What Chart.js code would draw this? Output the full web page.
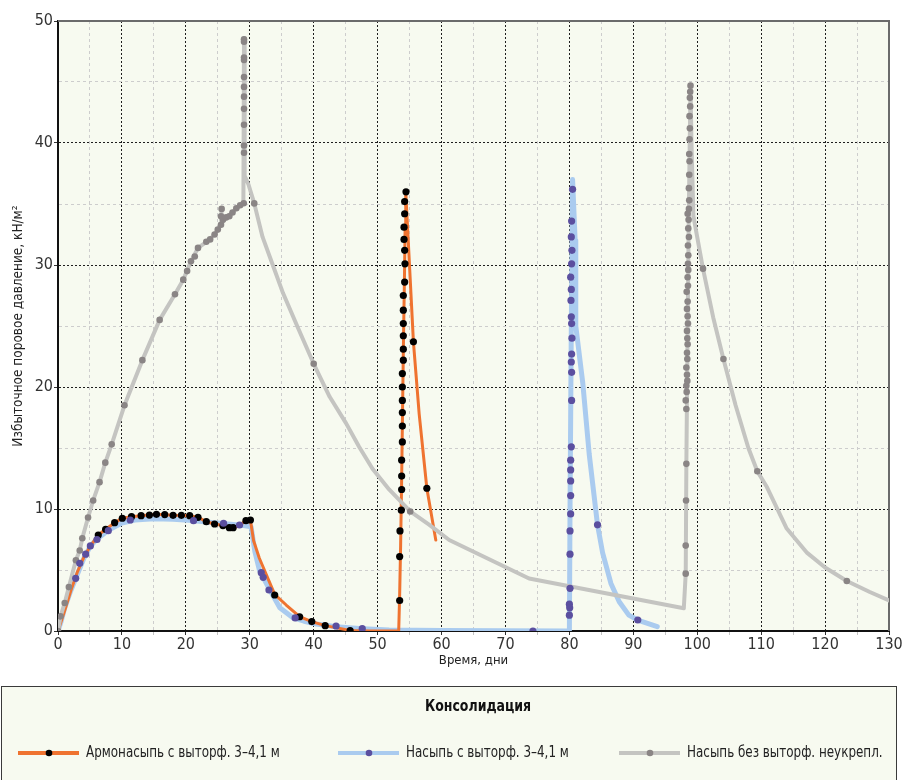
<!DOCTYPE html>
<html>
<head>
<meta charset="utf-8">
<script src="https://cdn.jsdelivr.net/npm/chart.js@4/dist/chart.umd.min.js"></script>
<style>
html,body{margin:0;padding:0;background:#fff;}
#wrap{width:903px;height:780px;position:relative;}
canvas{display:block;}
</style>
</head>
<body>
<div id="wrap"><canvas id="c" width="903" height="780"></canvas></div>
<script>
// ---------- DATA ----------
const xTickLabels = [0,10,20,30,40,50,60,70,80,90,100,110,120,130];
const yTickLabels = [0,10,20,30,40,50];
const xTitle = 'Время, дни';
const yTitle = 'Избыточное поровое давление, кН/м²';
const legendTitle = 'Консолидация';
const seriesNames = ['Армонасыпь с выторф. 3–4,1 м', 'Насыпь с выторф. 3–4,1 м', 'Насыпь без выторф. неукрепл.'];

// Армонасыпь — line
const armLine = [[0,0],[1,1.6],[2,3.3],[3,4.8],[4,6.0],[5,6.9],[6.3,7.87],[7.45,8.34],[8.86,8.88],[10.06,9.24],
  [11.5,9.37],[13,9.45],[15.4,9.56],[18,9.48],[20.6,9.45],[21.9,9.32],[23.2,8.96],[24.5,8.77],[25.8,8.64],[26.8,8.47],
  [27.4,8.45],[28.2,8.6],[29.4,9.04],[30.1,9.1],[30.6,7.4],[31.5,5.96],[33.9,3.0],[35.7,2.13],[37.8,1.17],[39.7,0.77],
  [41.8,0.44],[45.7,0.05],[48.7,0],[53.3,0],[53.45,3],[53.6,7],[53.75,12],[53.9,18],[54.05,24],[54.2,29],
  [54.3,33],[54.4,36.0],[55.6,23.7],[56.5,17.8],[57.7,11.7],[59.1,7.46]];
// Армонасыпь — measured points
const armDots = [[6.3,7.87],[7.45,8.34],[8.86,8.88],[10.06,9.24],[11.5,9.37],[13.0,9.45],[14.3,9.5],[15.4,9.56],[16.7,9.54],
  [18.0,9.48],[19.3,9.48],[20.6,9.45],[21.9,9.32],[23.2,8.96],[24.5,8.77],[25.8,8.64],[26.8,8.47],[27.4,8.47],[29.4,9.04],[30.1,9.1],
  [33.9,2.95],[37.8,1.17],[39.7,0.77],[41.8,0.44],[45.7,0.03],
  [54.44,36.0],[54.23,35.2],[54.23,34.2],[54.13,33.1],[54.13,32.1],[54.23,31.2],[54.28,30.1],[54.23,28.6],[54.02,27.5],
  [54.02,26.3],[54.02,25.2],[54.02,24.2],[54.02,23.1],[54.02,22.2],[53.87,21.1],[53.87,20.0],[53.87,18.9],[53.87,17.9],
  [53.87,16.8],[53.87,15.5],[53.76,14.0],[53.76,12.7],[53.76,11.6],[53.71,9.9],[53.5,8.2],[53.45,6.1],[53.45,2.5],
  [55.6,23.7],[57.7,11.7]];

// Насыпь с выторф. — line
const fillLine = [[0,0],[0.5,0.8],[1,1.8],[2,3.3],[3,4.6],[4,5.9],[5,6.9],[6,7.5],[8,8.3],[10,8.85],
  [12,9.1],[15,9.2],[18,9.15],[21,9.05],[24,8.9],[27,8.75],[29,8.65],[30.2,8.55],[30.8,6.5],[31.5,5.0],
  [33.1,3.4],[34.7,1.9],[36.7,1.1],[38.5,0.8],[40.4,0.57],[43.5,0.35],[47.7,0.19],[51.8,0.08],[60,0.04],[70,0.02],
  [80.0,0.0],[80.1,10],[80.3,25],[80.5,37.0],[80.9,32.0],[81.0,25.0],[82.1,20.3],[83.1,14.5],[84.4,8.7],[85.2,6.4],
  [86.5,3.9],[87.8,2.4],[89.3,1.3],[90.7,0.9],[93.75,0.35]];
// Насыпь с выторф. — measured points
const fillDots = [[2.77,4.32],[3.4,5.55],[4.33,6.3],[5.06,6.97],[6.1,7.5],[7.87,8.22],[11.3,9.1],[21.2,9.04],[25.9,8.83],[28.4,8.69],
  [31.8,4.78],[32.1,4.4],[33.0,3.36],[37.1,1.07],[43.5,0.41],[47.6,0.19],[74.3,0.0],
  [80.5,36.2],[80.35,33.6],[80.3,32.3],[80.4,31.2],[80.35,30.1],[80.2,29.0],[80.3,28.0],[80.25,27.1],[80.3,25.75],
  [80.35,25.2],[80.4,24.0],[80.35,22.7],[80.3,22.05],[80.35,21.2],[80.35,18.9],[80.3,15.1],[80.2,14.0],[80.2,13.2],
  [80.2,12.3],[80.2,11.1],[80.2,9.6],[80.1,8.2],[80.1,6.3],[80.1,3.5],[80.0,2.2],[80.05,1.9],[80.0,1.3],
  [84.4,8.7],[90.7,0.9]];

// Насыпь без выторф. неукрепл. — line
const greyLine = [[0,0],[0.4,1.2],[1.05,2.3],[1.7,3.6],[2.8,5.8],[3.4,6.6],[3.8,7.6],[4.7,9.3],[5.5,10.7],[6.5,12.2],
  [7.4,13.8],[8.4,15.3],[10.4,18.5],[13.2,22.2],[15.9,25.5],[18.3,27.6],[19.6,28.8],[20.8,30.3],[21.9,31.4],[23.8,32.1],
  [25.0,32.9],[25.5,33.3],[25.55,34.6],[25.6,33.4],[26.3,33.9],[27.3,34.3],[27.9,34.65],[29.0,35.06],[29.1,48.6],[29.2,37.3],
  [29.8,36.6],[30.7,35.05],[32.0,32.3],[33.6,30.0],[35.2,27.7],[37.5,24.9],[40.0,21.9],[42.5,19.2],[45.1,17.0],[47.1,15.1],
  [49.2,13.3],[51.8,11.6],[55.1,9.8],[58.1,8.7],[61.2,7.46],[73.7,4.3],[97.9,1.86],[98.2,4.7],[98.3,13.7],[98.5,25],
  [98.7,35],[98.95,44.8],[99.1,40],[99.4,34],[100.9,29.7],[102.5,25.7],[104.1,22.3],[106,18.5],[108,15.0],[109.4,13.1],
  [110.9,11.8],[114,8.4],[117.2,6.4],[120,5.2],[123.4,4.1],[127,3.2],[130,2.5]];
// Насыпь без выторф. неукрепл. — measured points
const greyDots = [[0,0],[0.4,1.2],[1.05,2.3],[1.7,3.6],[2.8,5.8],[3.4,6.6],[3.8,7.6],[4.7,9.3],[5.5,10.7],[6.5,12.2],
  [7.4,13.8],[8.4,15.3],[10.4,18.5],[13.2,22.2],[15.9,25.5],[18.3,27.6],[19.6,28.8],[20.2,29.5],[20.8,30.3],[21.4,30.7],
  [21.9,31.4],[23.2,31.9],[23.8,32.1],[24.5,32.5],[25.0,32.9],[25.5,33.3],[25.5,34.0],[25.6,34.6],[25.8,33.7],[26.3,33.9],
  [26.8,34.0],[27.3,34.3],[27.9,34.65],[28.5,34.9],[29.06,35.06],
  [29.1,39.2],[29.1,39.8],[29.1,41.5],[29.1,42.8],[29.1,43.8],[29.1,44.6],[29.1,45.4],[29.1,46.8],[29.1,47.0],[29.1,48.3],[29.1,48.5],
  [30.7,35.05],[40.0,21.9],[55.1,9.8],
  [98.2,4.7],[98.2,7.0],[98.25,10.7],[98.3,13.7],[98.3,18.2],[98.2,18.9],[98.35,19.6],[98.3,20.1],[98.45,20.5],[98.4,21.0],
  [98.3,21.6],[98.45,22.3],[98.4,22.8],[98.5,23.5],[98.45,24.0],[98.4,24.6],[98.55,25.2],[98.5,25.8],[98.4,26.4],[98.5,27.0],
  [98.35,27.8],[98.55,28.3],[98.5,29.0],[98.6,29.6],[98.55,30.1],[98.6,30.8],[98.55,31.6],[98.7,32.3],[98.6,33.0],[98.65,33.7],
  [98.5,34.2],[98.7,34.6],[98.75,35.3],[98.7,36.3],[98.75,37.4],[98.8,38.5],[98.75,39.1],[98.8,40.3],[98.85,41.2],[98.8,42.2],
  [98.9,43.0],[98.85,43.7],[98.9,44.2],[98.95,44.7],
  [100.9,29.7],[104.1,22.3],[109.4,13.1],[123.4,4.1]];

// ---------- STYLE ----------
const FONT = "'Liberation Sans Narrow','Arial Narrow','DejaVu Sans Condensed',sans-serif";
const PLOT_BG = '#f7faf0';
const COLORS = {
  armLine:'#ef7330', armDot:'#000000',
  fillLine:'#aacbef', fillDot:'#5b4f9f',
  greyLine:'#c4c4c1', greyDot:'#8a8585'
};

function pts(arr){ return arr.map(p => ({x:p[0], y:p[1]})); }
function isMajor(c){ return c.tick && Math.abs(c.tick.value % 10) < 1e-6; }

const bgPlugin = {
  id:'plotBg',
  beforeDraw(chart){
    const a = chart.chartArea, ctx = chart.ctx;
    ctx.save();
    ctx.fillStyle = PLOT_BG;
    ctx.fillRect(a.left, a.top, a.right - a.left, a.bottom - a.top);
    ctx.restore();
  },
  beforeDatasetsDraw(chart){
    const a = chart.chartArea, ctx = chart.ctx;
    ctx.save();
    ctx.strokeStyle = '#6b6b6b';
    ctx.lineWidth = 2;
    ctx.beginPath();
    ctx.moveTo(a.left, a.top); ctx.lineTo(a.right, a.top); ctx.lineTo(a.right, a.bottom);
    ctx.stroke();
    ctx.restore();
  }
};

function narrowText(ctx, text, x, y, sx){
  ctx.save();
  ctx.translate(x, y);
  ctx.scale(sx, 1);
  ctx.fillText(text, 0, 0);
  ctx.restore();
}

const legendX = [18, 338, 619];
const legendPlugin = {
  id:'boxLegend',
  afterDraw(chart){
    const ctx = chart.ctx;
    ctx.save();
    ctx.fillStyle = PLOT_BG;
    ctx.fillRect(1, 686, 896, 100);
    ctx.strokeStyle = '#3a3a3a';
    ctx.lineWidth = 1;
    ctx.strokeRect(1.5, 686.5, 895, 120);
    ctx.fillStyle = '#111';
    ctx.font = 'bold 16px ' + FONT;
    ctx.textAlign = 'center';
    ctx.textBaseline = 'middle';
    narrowText(ctx, legendTitle, 478, 707, 0.87);
    const lineCols = [COLORS.armLine, COLORS.fillLine, COLORS.greyLine];
    const dotCols = [COLORS.armDot, COLORS.fillDot, COLORS.greyDot];
    const y = 753;
    for (let i = 0; i < 3; i++) {
      const x0 = legendX[i];
      ctx.strokeStyle = lineCols[i];
      ctx.lineWidth = 4;
      ctx.beginPath(); ctx.moveTo(x0, y); ctx.lineTo(x0 + 61, y); ctx.stroke();
      ctx.fillStyle = dotCols[i];
      ctx.beginPath(); ctx.arc(x0 + 31, y, 3.3, 0, Math.PI * 2); ctx.fill();
      ctx.fillStyle = '#222';
      ctx.font = '16px ' + FONT;
      ctx.textAlign = 'left';
      narrowText(ctx, seriesNames[i], x0 + 68, y, 0.83);
    }
    ctx.restore();
  }
};

const lineDs = (data, color, width, order) => ({
  data: pts(data), showLine:true, borderColor:color, borderWidth:width, pointRadius:0, pointHoverRadius:0,
  tension:0, fill:false, borderJoinStyle:'round', borderCapStyle:'round', order
});
const dotDs = (data, color, r, order) => ({
  data: pts(data), showLine:false, pointRadius:r, pointHoverRadius:r, pointBackgroundColor:color,
  pointBorderWidth:0, borderColor:color, order
});

new Chart(document.getElementById('c'), {
  type:'scatter',
  data:{
    datasets:[
      Object.assign(dotDs(fillDots, COLORS.fillDot, 3.6, 0), {label:seriesNames[1] + ' (точки)'}),
      Object.assign(dotDs(armDots, COLORS.armDot, 3.6, 1), {label:seriesNames[0] + ' (точки)'}),
      Object.assign(dotDs(greyDots, COLORS.greyDot, 3.3, 2), {label:seriesNames[2] + ' (точки)'}),
      Object.assign(lineDs(greyLine, COLORS.greyLine, 4, 3), {label:seriesNames[2]}),
      Object.assign(lineDs(armLine, COLORS.armLine, 3, 4), {label:seriesNames[0]}),
      Object.assign(lineDs(fillLine, COLORS.fillLine, 5, 5), {label:seriesNames[1]})
    ]
  },
  options:{
    responsive:false,
    animation:false,
    devicePixelRatio:1,
    events:[],
    layout:{padding:{top:21, right:14, bottom:107, left:0}},
    plugins:{legend:{display:false}, tooltip:{enabled:false}, title:{display:false}},
    scales:{
      x:{
        type:'linear', min:0, max:130,
        afterFit(s){ s.height = 42; },
        ticks:{stepSize:5, autoSkip:false, maxRotation:0, padding:0, color:'#333',
          font:{family:FONT, size:16},
          callback:v => xTickLabels.includes(v) ? String(v) : ''},
        grid:{color:c => isMajor(c) ? '#1e1e1e' : '#cdcdcd', lineWidth:1, tickLength:4,
          tickColor:c => isMajor(c) ? '#333' : '#c4c4c4', tickBorderDash:[]},
        border:{display:true, color:'#111', width:2, dash:c => isMajor(c) ? [2,2] : [3,3]},
        title:{display:true, text:xTitle, color:'#222', font:{family:FONT, size:13}, padding:{top:0, bottom:5}}
      },
      y:{
        type:'linear', min:0, max:50,
        afterFit(s){ s.width = 58; },
        ticks:{stepSize:5, autoSkip:false, padding:1, color:'#333',
          font:{family:FONT, size:16},
          callback:v => yTickLabels.includes(v) ? String(v) : ''},
        grid:{color:c => isMajor(c) ? '#1e1e1e' : '#cdcdcd', lineWidth:1, tickLength:4,
          tickColor:c => isMajor(c) ? '#333' : 'rgba(0,0,0,0)', tickBorderDash:[]},
        border:{display:true, color:'#111', width:2, dash:c => isMajor(c) ? [2,2] : [3,3]},
        title:{display:true, text:yTitle, color:'#222', font:{family:FONT, size:13.5}, padding:{top:10, bottom:0}}
      }
    }
  },
  plugins:[bgPlugin, legendPlugin]
});
</script>
</body>
</html>
